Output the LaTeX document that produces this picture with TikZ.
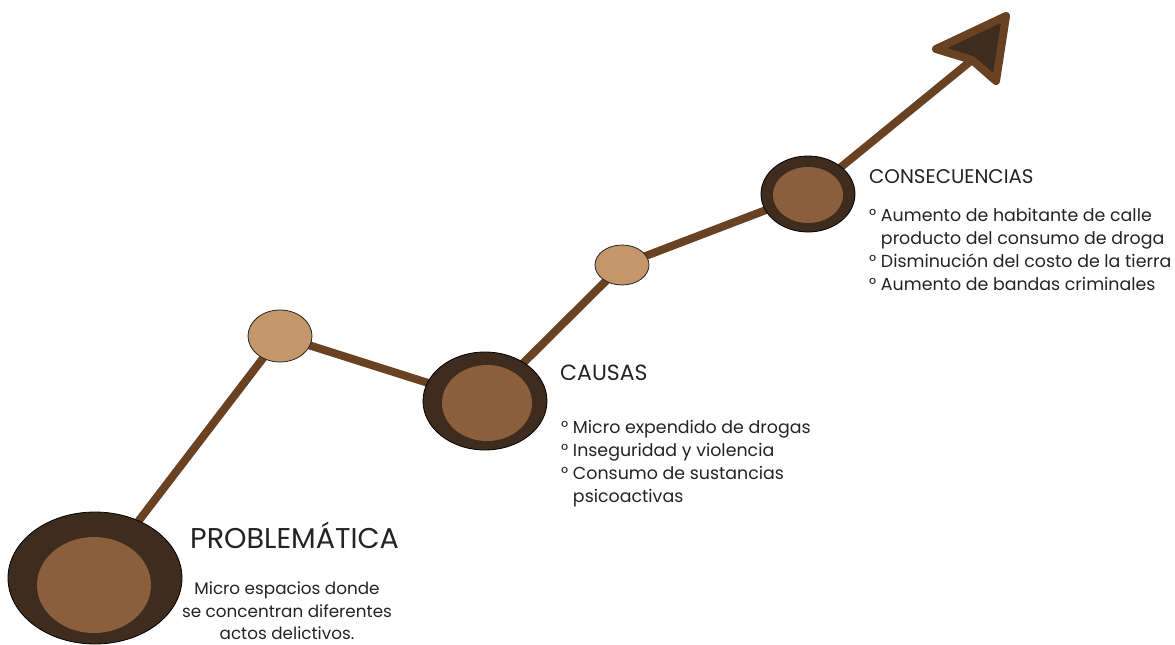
\documentclass[tikz,border=0pt]{standalone}
\usepackage{fontspec}
\setmainfont{Poppins}
\usetikzlibrary{shapes.geometric,backgrounds}

\definecolor{darkbrown}{RGB}{62,44,30}
\definecolor{midbrown}{RGB}{139,94,60}
\definecolor{lightbrown}{RGB}{196,150,106}
\definecolor{linebrown}{RGB}{104,66,34}
\definecolor{ink}{RGB}{35,35,35}

\begin{document}
\begin{tikzpicture}[x=1pt,y=-1pt,
    outer/.style={ellipse,draw=black,line width=0.8pt,fill=darkbrown,inner sep=0pt},
    inner/.style={ellipse,fill=midbrown,inner sep=0pt},
    dot/.style={ellipse,draw=black!85,line width=0.8pt,fill=lightbrown,inner sep=0pt},
    link/.style={linebrown,line width=8pt},
    title/.style={anchor=base west,inner sep=0pt,text=ink},
    txt/.style={anchor=north west,inner sep=0pt,text=ink,align=left,font=\fontsize{17.4}{23}\selectfont}]
\useasboundingbox (0,0) rectangle (1175,645);

% points on the line
\node[outer,minimum width=174pt,minimum height=132pt](prob)at(95,578){};
\node[inner,minimum width=114pt,minimum height=96pt](probin)at(94,585){};
\node[dot,minimum width=64pt,minimum height=52pt](dotA)at(280,336){};
\node[outer,minimum width=124pt,minimum height=98pt](caus)at(485,401){};
\node[inner,minimum width=90pt,minimum height=76pt](causin)at(487,403){};
\node[dot,minimum width=54pt,minimum height=40pt](dotB)at(622,265){};
\node[outer,minimum width=94pt,minimum height=76pt](cons)at(808,194){};
\node[inner,minimum width=70pt,minimum height=56pt](consin)at(808,195){};

\coordinate(notch)at(972,60);
\coordinate(tip)at(1006,16);
\coordinate(wingL)at(936,49);
\coordinate(wingR)at(996,81);

\begin{scope}[on background layer]
    \draw[link](prob.center)--(dotA.center)--(caus.center)--(dotB.center)--(cons.center)--(notch);
\end{scope}
\draw[link,line join=round,fill=darkbrown](notch)--(wingL)--(tip)--(wingR)--cycle;

% texts
\node[title,font=\fontsize{28.6}{30}\selectfont](probT)at(190,548){PROBLEMÁTICA};
\node[anchor=north,inner sep=0pt,text=ink,align=center,font=\fontsize{16.8}{22.5}\selectfont](probD)at(287,582){Micro espacios donde\\se concentran diferentes\\actos delictivos.};

\node[title,font=\fontsize{22}{24}\selectfont](causT)at(560,380){CAUSAS};
\node[txt](causD)at(561,420){° Micro expendido de drogas\\° Inseguridad y violencia\\° Consumo de sustancias\\\phantom{° }psicoactivas};

\node[title,font=\fontsize{19.8}{22}\selectfont](consT)at(869,183){CONSECUENCIAS};
\node[txt](consD)at(869,208){° Aumento de habitante de calle\\\phantom{° }producto del consumo de droga\\° Disminución del costo de la tierra\\° Aumento de bandas criminales};
\end{tikzpicture}
\end{document}
